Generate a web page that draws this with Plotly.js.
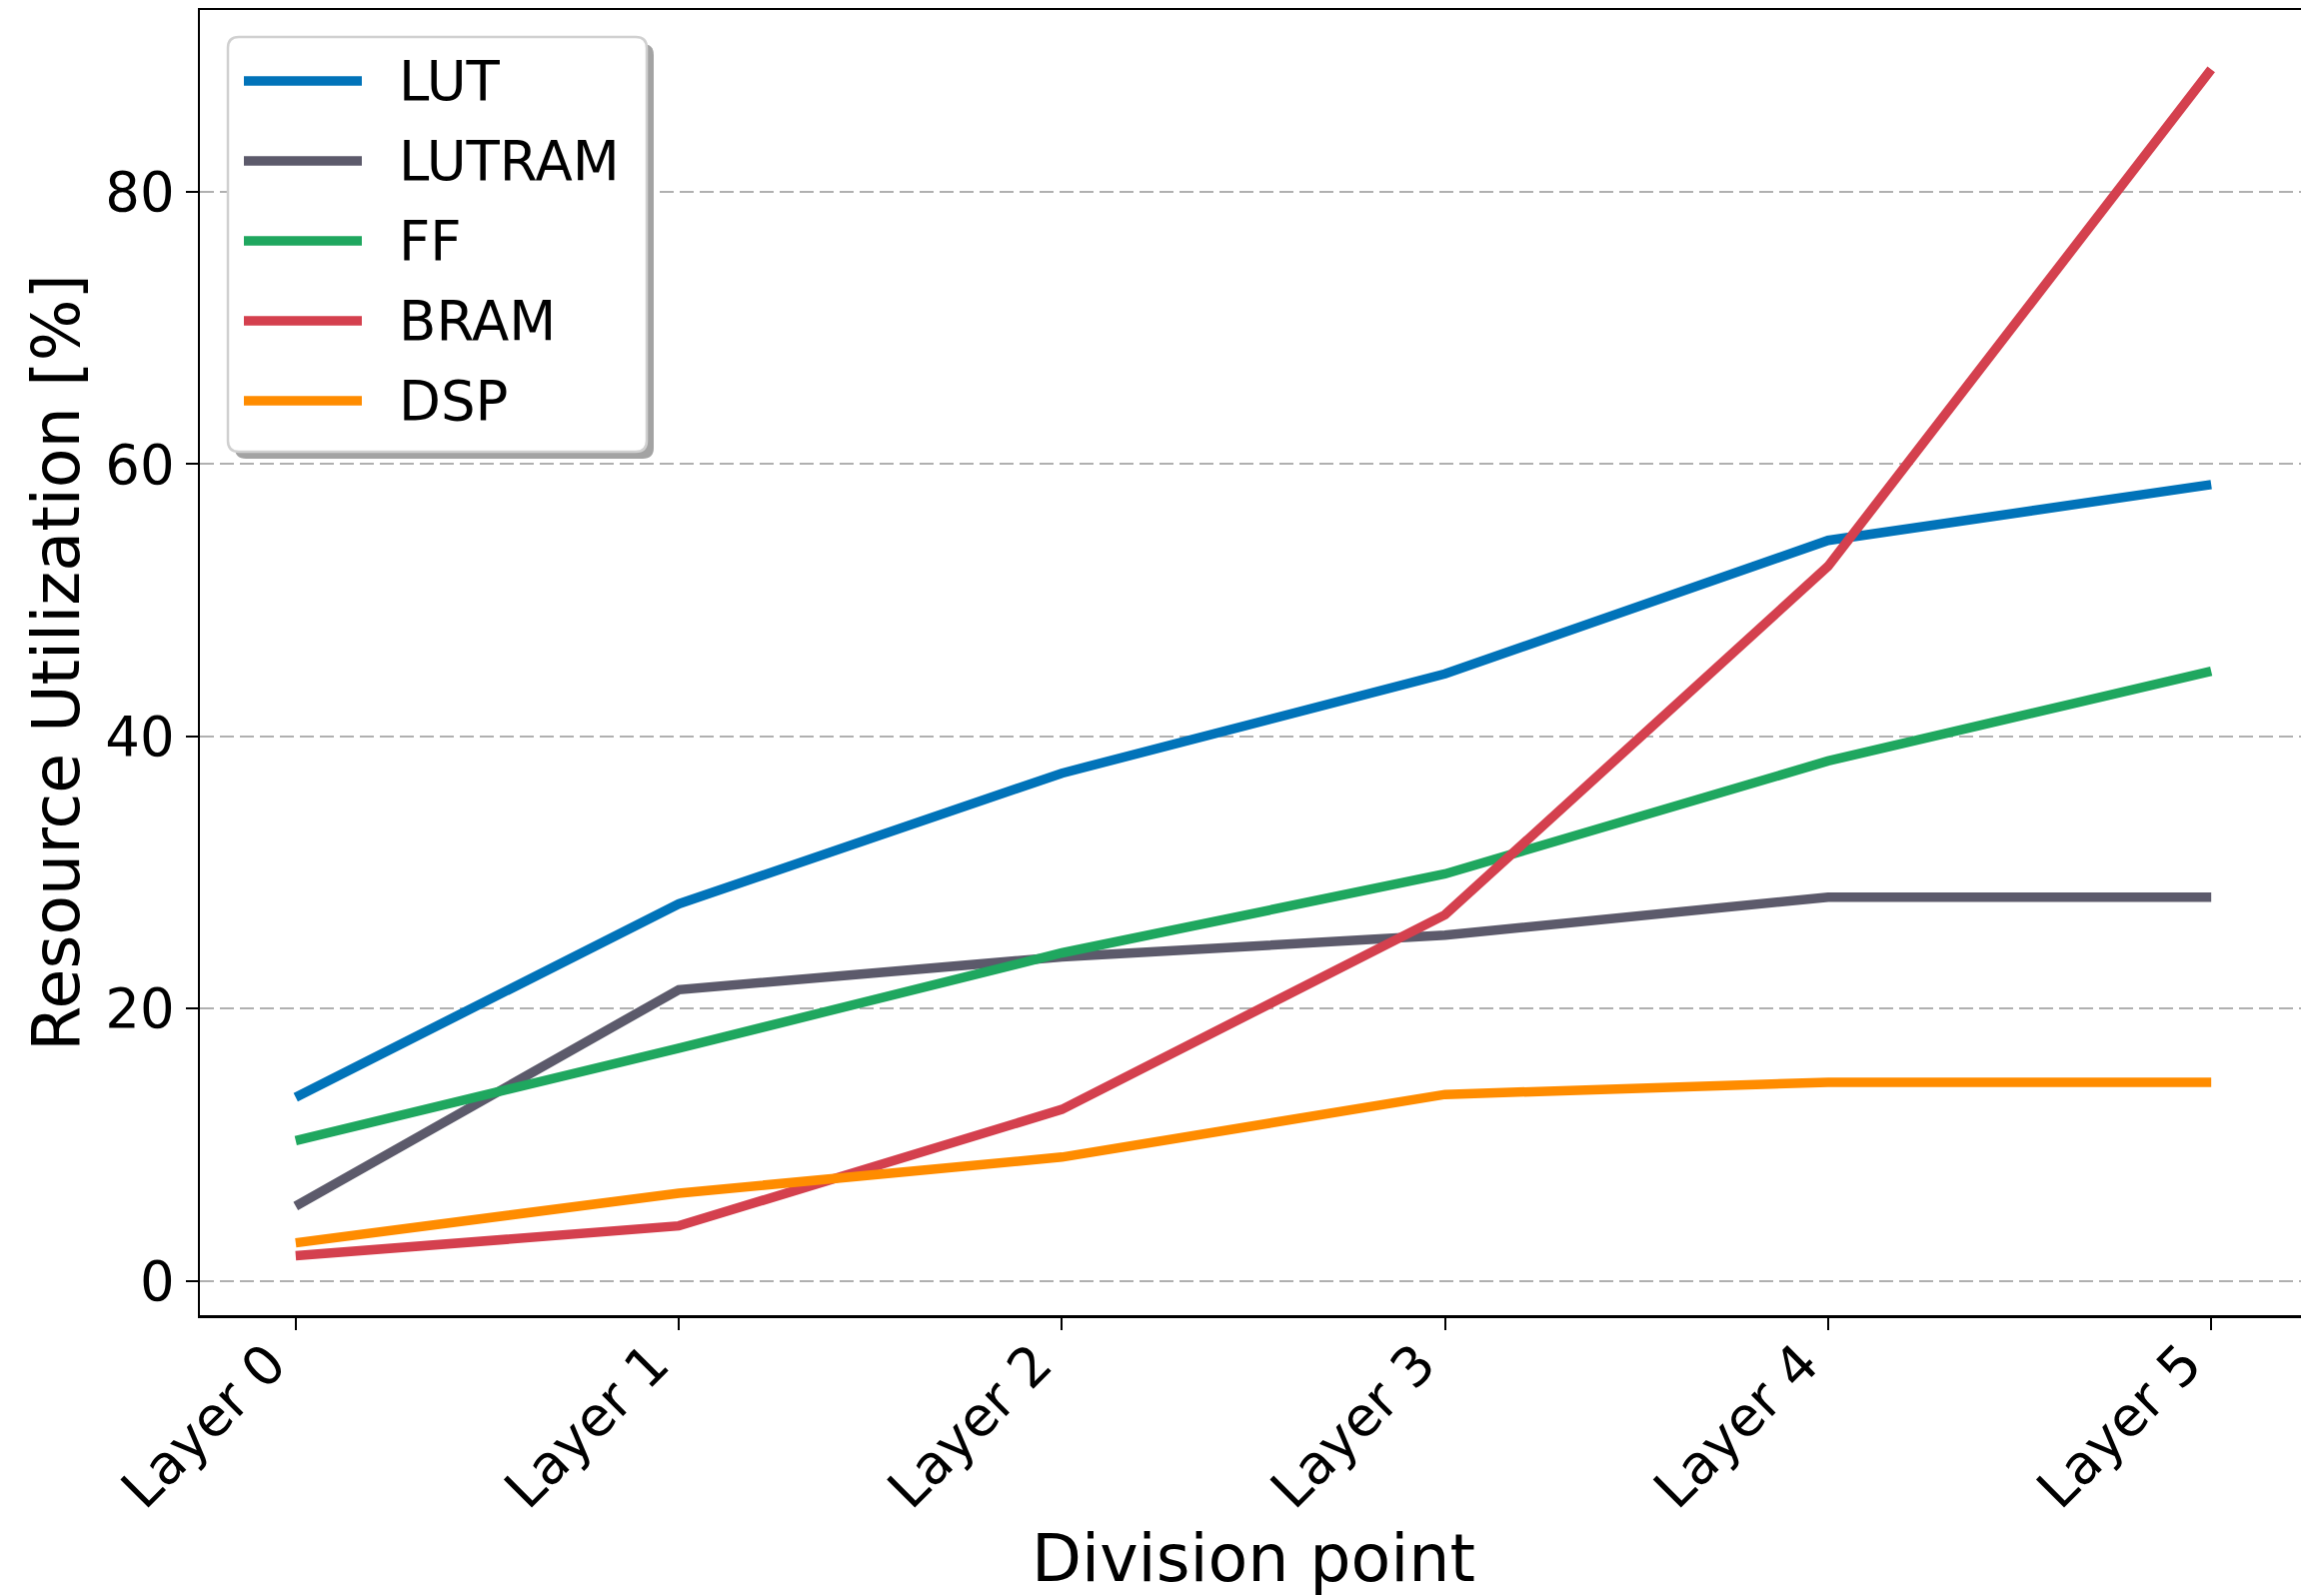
<!DOCTYPE html>
<html><head><meta charset="utf-8">
<script src="https://cdn.plot.ly/plotly-3.0.1.min.js"></script>
<style>html,body{margin:0;padding:0;overflow:hidden;background:#fff;}</style>
</head><body><div id="chart"></div>
<script>
// ---- data ----
const categories = ['Layer 0', 'Layer 1', 'Layer 2', 'Layer 3', 'Layer 4', 'Layer 5'];
const seriesNames = ['LUT', 'LUTRAM', 'FF', 'BRAM', 'DSP'];
const lutValues    = [13.5, 27.7, 37.3, 44.6, 54.4, 58.5];
const lutramValues = [5.5, 21.4, 23.8, 25.4, 28.2, 28.2];
const ffValues     = [10.3, 17.1, 24.1, 29.9, 38.2, 44.8];
const bramValues   = [1.85, 4.05, 12.6, 26.9, 52.5, 89.0];
const dspValues    = [2.8, 6.45, 9.1, 13.7, 14.6, 14.6];
const yTickValues  = [0, 20, 40, 60, 80];
const xTitle = 'Division point';
const yTitle = 'Resource Utilization [%]';

// ---- style ----
const colors = ['#0173b9', '#5c5a6b', '#1fa75f', '#d4404e', '#ff8c00'];
const FONT = 'DejaVu Sans, Liberation Sans, sans-serif';
const TICK = 54.5, TITLE = 65;
const W = 2310, H = 1597;
const M = {l: 200, r: 2, t: 10, b: 281};
const PW = W - M.l - M.r, PH = H - M.t - M.b;
const fx = px => (px - M.l) / PW;
const fy = py => (H - M.b - py) / PH;

const allSeries = [lutValues, lutramValues, ffValues, bramValues, dspValues];
const traces = allSeries.map((vals, i) => ({
  type: 'scatter', mode: 'lines', name: seriesNames[i],
  x: categories, y: vals,
  line: {color: colors[i], width: 9.5},
  showlegend: false, hoverinfo: 'skip'
}));

// ---- custom legend (matplotlib style, with shadow) ----
function roundRect(x0, y0, x1, y1, r) {
  const rx = r / PW, ry = r / PH;
  const X0 = fx(x0), X1 = fx(x1), Y0 = fy(y0), Y1 = fy(y1);
  return `M${X0 + rx},${Y0} L${X1 - rx},${Y0} Q${X1},${Y0} ${X1},${Y0 - ry} ` +
         `L${X1},${Y1 + ry} Q${X1},${Y1} ${X1 - rx},${Y1} L${X0 + rx},${Y1} ` +
         `Q${X0},${Y1} ${X0},${Y1 + ry} L${X0},${Y0 - ry} Q${X0},${Y0} ${X0 + rx},${Y0} Z`;
}
const box = {x0: 228, y0: 37, x1: 647, y1: 452};
const shapes = [
  {type: 'path', xref: 'paper', yref: 'paper', layer: 'above',
   path: roundRect(box.x0 + 7, box.y0 + 7, box.x1 + 7, box.y1 + 7, 11),
   fillcolor: '#a3a3a3', line: {width: 0}},
  {type: 'path', xref: 'paper', yref: 'paper', layer: 'above',
   path: roundRect(box.x0, box.y0, box.x1, box.y1, 11),
   fillcolor: '#ffffff', line: {color: '#d0d0d0', width: 2.5}}
];
const annotations = [];
const entryY = [81, 161, 241, 321, 401];
seriesNames.forEach((nm, i) => {
  shapes.push({type: 'line', xref: 'paper', yref: 'paper', layer: 'above',
    x0: fx(244), x1: fx(362), y0: fy(entryY[i]), y1: fy(entryY[i]),
    line: {color: colors[i], width: 9.5}});
  annotations.push({xref: 'paper', yref: 'paper', x: fx(396.7), y: fy(entryY[i]),
    xanchor: 'left', yanchor: 'middle', showarrow: false, text: nm,
    font: {family: FONT, size: TICK, color: '#000'}});
});

const layout = {
  width: W, height: H,
  margin: M,
  paper_bgcolor: '#fff', plot_bgcolor: '#fff',
  font: {family: FONT, color: '#000'},
  showlegend: false,
  xaxis: {
    type: 'category', categoryarray: categories, range: [-0.25, 5.25],
    showline: true, mirror: true, linecolor: '#000', linewidth: 2.5,
    ticks: 'outside', ticklen: 12, tickwidth: 2, tickcolor: '#000',
    tickangle: -45, tickfont: {family: FONT, size: TICK, color: '#000'},
    ticklabelshift: -26, ticklabelstandoff: -20,
    showgrid: false, zeroline: false, automargin: false,
    title: {text: xTitle, font: {family: FONT, size: TITLE, color: '#000'}, standoff: 36}
  },
  yaxis: {
    range: [-2.51, 93.36], tickvals: yTickValues, ticktext: yTickValues.map(String),
    showline: true, mirror: true, linecolor: '#000', linewidth: 2.5,
    ticks: 'outside', ticklen: 12, tickwidth: 2, tickcolor: '#000',
    tickfont: {family: FONT, size: TICK, color: '#000'},
    showgrid: true, gridcolor: '#b0b0b0', gridwidth: 2, griddash: '14px,6px',
    zeroline: false, automargin: false,
    title: {text: yTitle, font: {family: FONT, size: TITLE, color: '#000'}, standoff: 5}
  },
  shapes: shapes,
  annotations: annotations
};

Plotly.newPlot('chart', traces, layout, {displayModeBar: false, staticPlot: true});
</script></body></html>
